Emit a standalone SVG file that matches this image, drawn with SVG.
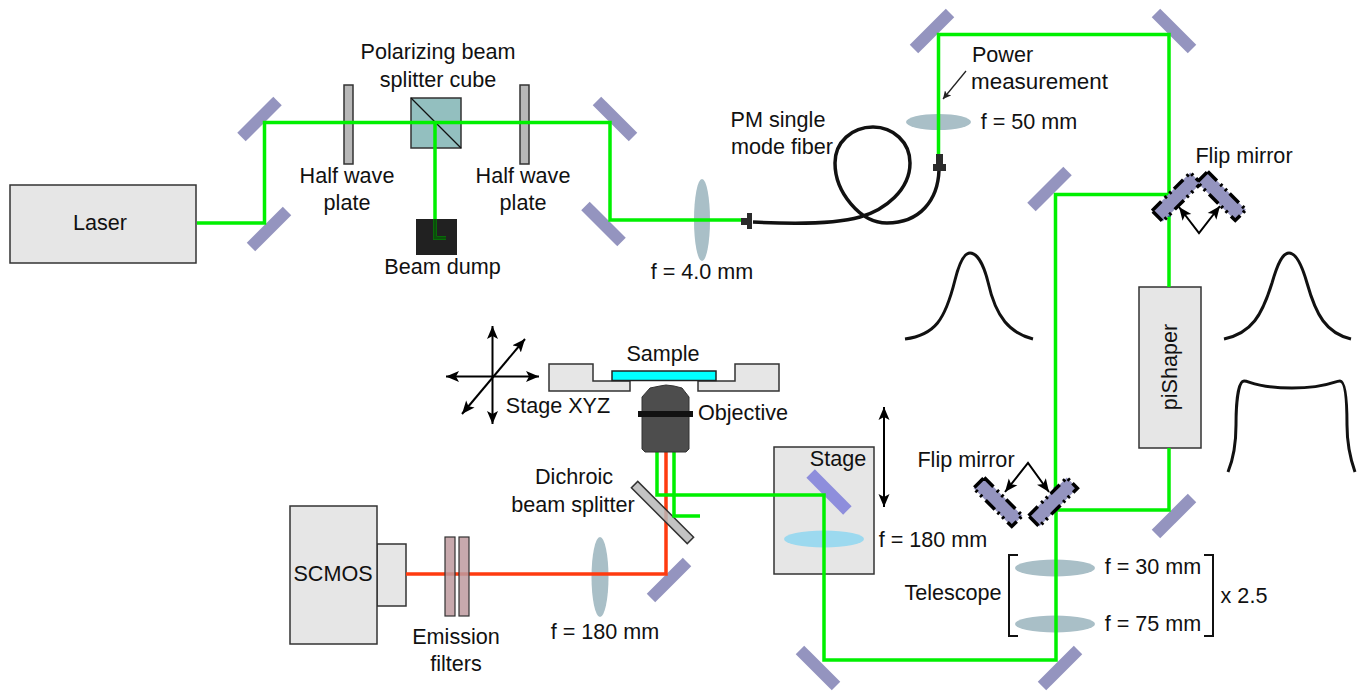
<svg xmlns="http://www.w3.org/2000/svg" width="1363" height="696" viewBox="0 0 1363 696">
<style>
text{font-family:"Liberation Sans",Arial,sans-serif;font-size:21.600px;fill:#111;text-anchor:middle}
.box{fill:#e6e6e6;stroke:#333;stroke-width:1.500}
.m{fill:#9494bf}
.lens{fill:#a9bfc7}
.lensb{fill:#9cd9ef}
.plate{fill:#b8b8b8;stroke:#333;stroke-width:1.500}
.filter{fill:#be9a9f;fill-opacity:.85;stroke:#333;stroke-width:1.200}
.g{fill:none;stroke:#00f000;stroke-width:3.500}
.r{fill:none;stroke:#ff3b0f;stroke-width:3.500}
.k{fill:none;stroke:#000;stroke-width:2}
.curve{fill:none;stroke:#111;stroke-width:3}
.fib{fill:none;stroke:#111;stroke-width:3.500}
.d1{fill:none;stroke:#000;stroke-width:3.500;stroke-dasharray:13 5 2.500 4 2.500 4}
.conn{fill:#2b2b2b}
</style>
<defs>
<rect id="mirror" class="m" x="-25.500" y="-6" width="51" height="12"/>
<marker id="a" markerWidth="14" markerHeight="12" refX="13" refY="6" orient="auto" markerUnits="userSpaceOnUse"><path d="M0,0.500L13,6L0,11.500L3,6Z" fill="#000"/></marker>
<marker id="as" markerWidth="14" markerHeight="12" refX="0" refY="6" orient="auto" markerUnits="userSpaceOnUse"><path d="M13,0.500L0,6L13,11.500L10,6Z" fill="#000"/></marker>
<marker id="t" markerWidth="9" markerHeight="8" refX="8" refY="4" orient="auto" markerUnits="userSpaceOnUse"><path d="M0,0L8,4L0,8L2,4Z" fill="#222"/></marker>
<g id="flipL"><rect class="m" x="-27" y="-7.500" width="54" height="15"/><rect class="d1" x="-27" y="-7.500" width="54" height="15"/></g>
</defs>

<g id="laser"><rect class="box" x="10" y="185" width="186" height="78"/><text x="100" y="230">Laser</text></g>
<g id="mirrors">
<use href="#mirror" transform="translate(259.500,119) rotate(-45)"/>
<use href="#mirror" transform="translate(269,229) rotate(-45)"/>
<use href="#mirror" transform="translate(615,119) rotate(45)"/>
<use href="#mirror" transform="translate(603.500,224) rotate(45)"/>
<use href="#mirror" transform="translate(932,31) rotate(-45)"/>
<use href="#mirror" transform="translate(1174,31) rotate(45)"/>
<use href="#mirror" transform="translate(1049.500,189) rotate(-45)"/>
<use href="#mirror" transform="translate(1174,516) rotate(-45)"/>
<use href="#mirror" transform="translate(1060,668) rotate(-45)"/>
<use href="#mirror" transform="translate(818,668) rotate(45)"/>
<use href="#mirror" transform="translate(669,580) rotate(-45)"/>
</g>
<g id="plate1"><rect class="plate" x="344" y="85" width="9" height="79"/></g>
<g id="plate2"><rect class="plate" x="520" y="85" width="9" height="79"/></g>
<g id="cube"><rect x="411" y="98" width="50" height="50" fill="#93bfbf" stroke="#333" stroke-width="1.500"/><path d="M411,98L461,148" stroke="#111" stroke-width="1.200"/></g>
<g id="dump"><rect x="416" y="219" width="41" height="36" fill="#212121"/></g>
<g id="stage-box"><rect class="box" x="774" y="447" width="100" height="127"/></g>
<g id="piShaper"><rect class="box" x="1139" y="287" width="62" height="161"/><text transform="translate(1177,367) rotate(-90)">piShaper</text></g>
<g id="scmos"><rect class="box" x="377" y="544" width="29" height="62"/><rect class="box" x="290" y="506" width="87" height="138"/><text x="333" y="581">SCMOS</text></g>
<g id="lenses">
<ellipse class="lens" cx="702" cy="220" rx="8" ry="41"/>
<ellipse class="lens" cx="938.500" cy="122" rx="32.500" ry="8"/>
<ellipse class="lens" cx="600" cy="577" rx="8.500" ry="40"/>
<ellipse class="lensb" cx="824" cy="539" rx="40" ry="8.500"/>
<ellipse class="lens" cx="1055" cy="568" rx="40" ry="8.500"/>
<ellipse class="lens" cx="1055" cy="624" rx="40" ry="8.500"/>
</g>
<g id="stage-mirror"><rect x="-26" y="-6" width="52" height="12" fill="#8e8edc" transform="translate(829,492) rotate(45)"/></g>

<g id="connectors">
<path class="r" d="M406,574H666V452"/>
<g id="dichroic"><rect x="-39.500" y="-4.500" width="79" height="9" fill="#b8b8b8" stroke="#333" stroke-width="1.500" fill-opacity=".85" transform="translate(662.500,512.500) rotate(45)"/></g>
<path class="g" d="M197,223H264.500V122.500H610V220H745"/>
<path class="g" d="M435,124V238H446"/>
<path class="g" d="M938.500,155V34.500H1169V287"/>
<path class="g" d="M1169,448V510H1056V660H824V495H657V452"/>
<path class="g" d="M1169,194.500H1055.500V510"/>
<path class="g" d="M674,452V516H700"/>
<path class="fib" d="M753,222C790,224 835,224 860,217C885,210 910,190 910,163C910,142 893,127 873,127C852,127 835,142 835,163C835,192 860,223 887,223C920,223 938,200 939,170"/>
<path d="M1169,195V217" stroke="#127f6e" stroke-width="3.500"/>
<path d="M1055.500,487V508" stroke="#127f6e" stroke-width="3.500"/>
<path d="M435,219V238H446" fill="none" stroke="#0a4f0a" stroke-width="3.500"/>
<path d="M966,71L943,99" fill="none" stroke="#222" stroke-width="1.300" marker-end="url(#t)"/>
<path class="k" d="M492.500,326V424" marker-start="url(#as)" marker-end="url(#a)"/>
<path class="k" d="M446,376.500H539" marker-start="url(#as)" marker-end="url(#a)"/>
<path class="k" d="M462,414L525,339" marker-start="url(#as)" marker-end="url(#a)"/>
<path class="k" d="M884,407V507" marker-start="url(#as)" marker-end="url(#a)"/>
<path class="k" d="M1179,207L1199,233L1220,206" marker-start="url(#as)" marker-end="url(#a)"/>
<path class="k" d="M1005,492L1028,463L1049,492" marker-start="url(#as)" marker-end="url(#a)"/>
</g>
<g id="filters"><rect class="filter" x="445" y="537" width="10" height="79"/><rect class="filter" x="459" y="537" width="10" height="79"/></g>
<g id="fiber-connectors">
<path class="conn" d="M741,218H747V213H752V229H747V225H741Z"/>
<path class="conn" d="M936,154H943V164H946V171H933V164H936Z"/>
</g>
<g id="flip-mirrors">
<use href="#flipL" transform="translate(1176.500,197) rotate(-45)"/>
<use href="#flipL" transform="translate(1221.500,196) rotate(45)"/>
<use href="#flipL" transform="translate(998,502) rotate(45)"/>
<use href="#flipL" transform="translate(1053,502) rotate(-45)"/>
</g>
<g id="stage-xyz">
<path class="box" d="M549,364H593V381H630V391H549Z"/>
<path class="box" d="M779,364H735V381H698V391H779Z"/>
<rect x="612" y="371" width="104" height="9.500" fill="#0ff" stroke="#222" stroke-width="1.500"/>
</g>
<g id="objective">
<path d="M642,397L650,388L660,386L666,385L674,386L682,388L689,397V449L686,452H645L642,449Z" fill="#4d4d4d" stroke="#333"/>
<rect x="638" y="411" width="55" height="6" fill="#111"/>
</g>
<g id="beam-profiles">
<path class="curve" d="M905,339C935,335 945,320 955,280C960,260 965,253 970,253C976,253 983,262 988,282C996,318 1010,333 1033,339"/>
<path class="curve" d="M1224,339C1252,333 1262,315 1272,283C1278,262 1283,253 1289,253C1295,253 1301,262 1307,283C1316,315 1326,333 1351,339"/>
<path class="curve" d="M1228,472C1235,455 1236,440 1236,425C1236,405 1238,381 1244,381C1250,381 1255,388 1292,388C1328,388 1334,381 1340,381C1346,381 1347,405 1347,425C1347,440 1349,455 1355,472"/>
</g>
<g id="telescope-brackets">
<path d="M1018,555H1009V636H1018M1204,555H1213V636H1204" fill="none" stroke="#111" stroke-width="2"/>
</g>
<g id="labels">
<text x="438" y="59">Polarizing beam</text>
<text x="438" y="87">splitter cube</text>
<text x="347" y="183">Half wave</text>
<text x="347" y="210">plate</text>
<text x="523" y="183">Half wave</text>
<text x="523" y="210">plate</text>
<text x="442.500" y="274">Beam dump</text>
<text x="702" y="279">f = 4.0 mm</text>
<text x="778" y="127">PM single</text>
<text x="782" y="154">mode fiber</text>
<text x="1002.500" y="62">Power</text>
<text x="1039.500" y="89" style="font-size:22.400px">measurement</text>
<text x="1029" y="129">f = 50 mm</text>
<text x="1244" y="163">Flip mirror</text>
<text x="966" y="467">Flip mirror</text>
<text x="663" y="361">Sample</text>
<text x="558" y="413">Stage XYZ</text>
<text x="743" y="420">Objective</text>
<text x="838" y="466">Stage</text>
<text x="933" y="547">f = 180 mm</text>
<text x="574" y="484">Dichroic</text>
<text x="573" y="512">beam splitter</text>
<text x="605" y="639">f = 180 mm</text>
<text x="456" y="644">Emission</text>
<text x="456" y="671">filters</text>
<text x="953" y="600">Telescope</text>
<text x="1153" y="574">f = 30 mm</text>
<text x="1153" y="631">f = 75 mm</text>
<text x="1244" y="603">x 2.5</text>
</g>
</svg>
